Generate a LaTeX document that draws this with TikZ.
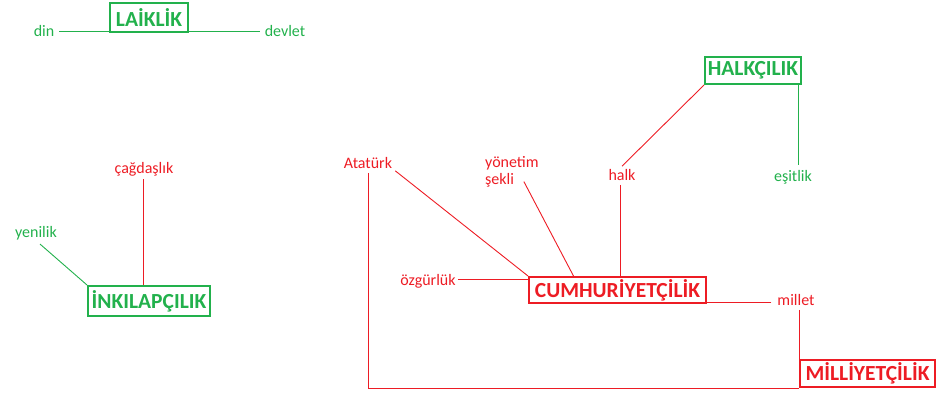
\documentclass[tikz,border=0pt]{standalone}
\usepackage{fontspec}
\setmainfont{Carlito}
\definecolor{pg}{RGB}{34,177,76}
\definecolor{pr}{RGB}{237,28,36}
\begin{document}
\begin{tikzpicture}[x=1pt,y=-1pt,
  lbl/.style={inner sep=0pt, font=\fontsize{16}{18}\selectfont},
  gt/.style={lbl, text=pg},
  rt/.style={lbl, text=pr},
  boxn/.style={draw, line width=2pt, inner sep=0pt, font=\bfseries\fontsize{21.5}{24}\selectfont},
  gbox/.style={boxn, draw=pg, text=pg},
  rbox/.style={boxn, draw=pr, text=pr},
  gl/.style={draw=pg, line width=0.9pt},
  rl/.style={draw=pr, line width=0.9pt},
]
\useasboundingbox (0,0) rectangle (939,394);
% boxes
\node[gbox, minimum width=78pt, minimum height=29pt] (laik) at (149,17.5) {LAİKLİK};
\node[gbox, minimum width=122pt, minimum height=30pt] (ink) at (149,301) {İNKILAPÇILIK};
\node[gbox, minimum width=96pt, minimum height=27pt] (hal) at (753,70.5) {HALKÇILIK};
\node[rbox, minimum width=177pt, minimum height=26pt] (cum) at (617.5,290) {CUMHURİYETÇİLİK};
\node[rbox, minimum width=135pt, minimum height=27pt] (mil) at (867.5,373.5) {MİLLİYETÇİLİK};
% labels
\node[gt] (din) at (44,31) {din};
\node[gt] (devlet) at (285,31) {devlet};
\node[rt] (cag) at (144,169) {çağdaşlık};
\node[gt] (yen) at (36,233) {yenilik};
\node[rt] (ata) at (368,163) {Atatürk};
\node[rt, align=left, anchor=west] (yon) at (485,172) {yönetim\\[-1pt]şekli};
\node[rt] (halk) at (622,175) {halk};
\node[gt] (esit) at (793,177) {eşitlik};
\node[rt] (ozg) at (428,281) {özgürlük};
\node[rt] (mlt) at (796,300) {millet};
% connectors
\draw[gl] ([xshift=5pt]din.east) -- ([xshift=-5pt]devlet.west);
\draw[rl] ([xshift=-1pt,yshift=-3pt]cag.south) -- ([xshift=-1pt]cag.south |- ink.north);
\draw[gl] ([xshift=4pt,yshift=-4pt]yen.south) -- (ink.north west);
\draw[rl] ([yshift=-4pt]ata.south) -- (ata.south |- mil.south west) -- (mil.south west);
\draw[rl] ([xshift=3pt,yshift=-2pt]ata.south east) -- (cum.north west);
\draw[rl] ([xshift=-15pt,yshift=6pt]yon.south east) -- ([xshift=-44pt]cum.north);
\draw[rl] ([yshift=3pt]halk.north) -- (hal.south west);
\draw[rl] ([xshift=-2pt,yshift=-4pt]halk.south) -- ([xshift=-2pt]halk.south |- cum.north);
\draw[gl] ([xshift=5pt,yshift=5pt]esit.north) -- ([xshift=5pt]esit.north |- hal.south);
\draw[rl] ([xshift=2pt,yshift=2pt]ozg.east) -- ([yshift=2pt]ozg.east -| cum.west);
\draw[rl] ([xshift=-6pt,yshift=-2pt]mlt.west) -- ([yshift=-2pt]mlt.west -| cum.east);
\draw[rl] ([yshift=-4pt]mlt.south -| mil.north west) -- (mil.north west);
\end{tikzpicture}
\end{document}
